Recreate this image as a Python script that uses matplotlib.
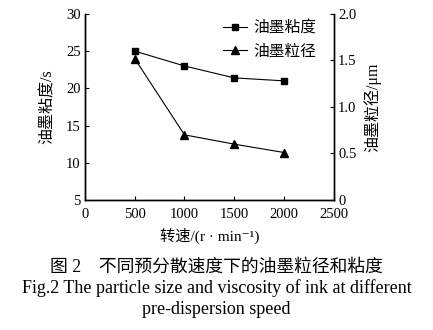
import matplotlib
matplotlib.use('Agg')
import matplotlib.pyplot as plt
from matplotlib.lines import Line2D

plt.rcParams['font.family'] = ['Liberation Serif', 'Noto Sans CJK SC', 'DejaVu Sans']

# data
speed = [500, 1000, 1500, 2000]
viscosity = [25.0, 23.0, 21.4, 21.0]       # s
particle_size = [1.52, 0.70, 0.60, 0.51]   # um

x_ticks = [0, 500, 1000, 1500, 2000, 2500]
left_ticks = [5, 10, 15, 20, 25, 30]
right_ticks = [0, 0.5, 1.0, 1.5, 2.0]
right_labels = ['0', '0.5', '1.0', '1.5', '2.0']

fig = plt.figure(figsize=(4.33, 3.30), dpi=100)
ax = fig.add_axes([0.196, 0.394, 0.575, 0.564])
ax2 = ax.twinx()

ax.plot(speed, viscosity, color='black', lw=0.8, marker='s', markersize=4.5)
ax2.plot(speed, particle_size, color='black', lw=0.8, marker='^', markersize=6)

ax.set_xlim(0, 2500)
ax.set_ylim(5, 30)
ax2.set_ylim(0, 2.0)
ax.set_xticks(x_ticks)
ax.set_yticks(left_ticks)
ax2.set_yticks(right_ticks)
ax2.set_yticklabels(right_labels)

for a in (ax, ax2):
    a.spines['top'].set_visible(False)
    for s in a.spines.values():
        s.set_linewidth(1.0)
    a.tick_params(direction='in', length=3, width=0.8, labelsize=10.5, pad=3)
ax.tick_params(axis='x', pad=6)

ax.set_ylabel('油墨粘度/s', fontsize=11.5, labelpad=7)
ax2.set_ylabel('油墨粒径/μm', fontsize=11.5, labelpad=5)
ax.set_xlabel('转速/(r · min⁻¹)', fontsize=11, labelpad=5)

handles = [Line2D([], [], color='black', lw=0.8, marker='s', markersize=4.5),
           Line2D([], [], color='black', lw=0.8, marker='^', markersize=6)]
ax.legend(handles, ['油墨粘度', '油墨粒径'], loc='upper right',
          bbox_to_anchor=(0.985, 1.04), frameon=False, fontsize=11.3,
          handlelength=1.5, handletextpad=0.4, labelspacing=0.45)

# caption
fig.text(0.5, 1 - 267 / 330, '图 2　不同预分散速度下的油墨粒径和粘度', fontsize=12.8,
         ha='center', va='center')
fig.text(0.5, 1 - 288 / 330, 'Fig.2 The particle size and viscosity of ink at different',
         fontsize=13, ha='center', va='center')
fig.text(0.5, 1 - 309 / 330, 'pre-dispersion speed', fontsize=13, ha='center', va='center')
fig.text(0.105, -0.035, '预分散时间', fontsize=12.8, ha='left', va='center')

plt.savefig('out.png', dpi=100)
